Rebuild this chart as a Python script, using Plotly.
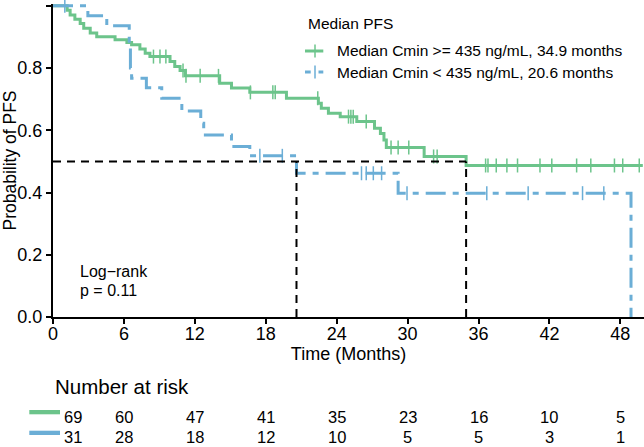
import numpy as np
import plotly.graph_objects as go

# ---------------- data ----------------
green_name = "Median Cmin >= 435 ng/mL, 34.9 months"
blue_name = "Median Cmin < 435 ng/mL, 20.6 months"

green_times = [0, 1.2, 1.45, 1.85, 2.3, 2.6, 3.15, 3.7, 5.25, 6.25, 6.65, 7.35, 7.8, 8.2,
               9.9, 10.3, 10.75, 11.2, 14.1, 15.1, 16.65, 19.75, 22.45, 22.7, 23.3, 24.3,
               25.7, 27.2, 27.7, 28.0, 28.2, 31.4, 34.95, 49.9]
green_surv = [1.0, 0.986, 0.971, 0.957, 0.943, 0.928, 0.913, 0.901, 0.891, 0.882, 0.875, 0.861, 0.848, 0.837,
              0.821, 0.805, 0.792, 0.775, 0.751, 0.736, 0.722, 0.703, 0.687, 0.671, 0.655, 0.644,
              0.628, 0.607, 0.590, 0.569, 0.545, 0.516, 0.487, 0.487]
green_censor = [8.5, 9.05, 9.55, 11.0, 11.25, 12.45, 14.0, 16.7, 18.6, 18.8, 22.4, 25.0, 25.2, 25.4,
                26.5, 28.6, 29.2, 30.1, 32.2, 32.5, 36.6, 36.8, 37.5, 38.4, 39.3, 41.2, 42.2,
                44.3, 45.5, 47.5, 48.2, 49.6]

blue_times = [0, 2.95, 4.55, 6.45, 6.55, 6.65, 7.9, 9.2, 10.9, 12.5, 12.75, 15.1, 16.65, 20.6, 29.2, 48.9]
blue_surv = [1.0, 0.968, 0.936, 0.870, 0.800, 0.767, 0.737, 0.703, 0.662, 0.623, 0.585, 0.548, 0.518,
             0.462, 0.398, 0.0]
blue_censor = [1.0, 17.5, 19.4, 26.1, 26.5, 27.1, 27.8, 29.95, 36.7, 40.2, 44.8, 46.6]

medians = [34.95, 20.6]
median_level = 0.5

risk_times = [0, 6, 12, 18, 24, 30, 36, 42, 48]
risk_green = [69, 60, 47, 41, 35, 23, 16, 10, 5]
risk_blue = [31, 28, 18, 12, 10, 5, 5, 3, 1]

y_ticks = [0.0, 0.2, 0.4, 0.6, 0.8, 1.0]

# ---------------- style ----------------
GREEN = "#6CC48B"
BLUE = "#6BAED6"
FONT = "Liberation Sans, Arial, sans-serif"
PW, PH = 644, 447
ML, MR, MT, MB = 53, 0, 4, 130


def px_x(px):
    return (px - ML) / (PW - ML - MR)


def px_y(py):
    return (PH - MB - py) / (PH - MB - MT)


def step_value(times, surv, t):
    i = np.searchsorted(np.asarray(times), t, side="right") - 1
    return np.asarray(surv)[i]


fig = go.Figure()

fig.add_trace(go.Scatter(x=green_times, y=green_surv, mode="lines", line_shape="hv",
                         line=dict(color=GREEN, width=3), name=green_name, showlegend=False))
fig.add_trace(go.Scatter(x=blue_times, y=blue_surv, mode="lines", line_shape="hv",
                         line=dict(color=BLUE, width=3, dash="20px,7px,6px,7px"),
                         name=blue_name, showlegend=False))

for times, surv, cens, col in [(green_times, green_surv, green_censor, GREEN),
                               (blue_times, blue_surv, blue_censor, BLUE)]:
    fig.add_trace(go.Scatter(
        x=cens, y=[step_value(times, surv, t) for t in cens], mode="markers",
        marker=dict(symbol="line-ns-open", size=10, color=col, line=dict(color=col, width=1.5)),
        cliponaxis=False, showlegend=False, hoverinfo="skip"))

# median reference lines
mx, my = [0, max(medians)], [median_level, median_level]
for m in medians:
    mx += [None, m, m]
    my += [None, 0, median_level]
fig.add_trace(go.Scatter(x=mx, y=my, mode="lines", line=dict(color="black", width=2, dash="8px,6px"),
                         showlegend=False, hoverinfo="skip"))

annotations = [
    dict(x=px_x(78), y=px_y(271.7), text="Log\u2212rank", font=dict(size=16)),
    dict(x=px_x(78), y=px_y(290), text="p = 0.11", font=dict(size=16)),
    dict(x=px_x(306), y=px_y(23.5), text="Median PFS", font=dict(size=15.5)),
    dict(x=px_x(335), y=px_y(51), text=green_name, font=dict(size=15.5)),
    dict(x=px_x(335), y=px_y(72), text=blue_name, font=dict(size=15.5)),
    dict(x=px_x(53), y=px_y(386.7), text="Number at risk", font=dict(size=20.5)),
]
for a in annotations:
    a.update(xref="paper", yref="paper", xanchor="left", yanchor="middle", showarrow=False)
    a["font"].update(family=FONT, color="black")

for row, py in [(risk_green, 417.2), (risk_blue, 437.2)]:
    for t, n in zip(risk_times, row):
        annotations.append(dict(x=t, xref="x", y=px_y(py), yref="paper", text=str(n), showarrow=False,
                                xanchor="center", yanchor="middle", xshift=19.5 if t == 0 else 0,
                                borderpad=0,
                                font=dict(family=FONT, size=16.5, color="black")))

shapes = [
    dict(type="line", xref="paper", yref="paper", x0=px_x(305), x1=px_x(323.3), y0=px_y(51), y1=px_y(51),
         line=dict(color=GREEN, width=3)),
    dict(type="line", xref="paper", yref="paper", x0=px_x(315), x1=px_x(315), y0=px_y(44.5), y1=px_y(57.5),
         line=dict(color=GREEN, width=1.5)),
    dict(type="line", xref="paper", yref="paper", x0=px_x(305), x1=px_x(310.7), y0=px_y(72), y1=px_y(72),
         line=dict(color=BLUE, width=3)),
    dict(type="line", xref="paper", yref="paper", x0=px_x(318.5), x1=px_x(323.3), y0=px_y(72), y1=px_y(72),
         line=dict(color=BLUE, width=3)),
    dict(type="line", xref="paper", yref="paper", x0=px_x(315), x1=px_x(315), y0=px_y(65.5), y1=px_y(78.5),
         line=dict(color=BLUE, width=1.5)),
    dict(type="rect", xref="paper", yref="paper", x0=px_x(29.3), x1=px_x(60), y0=px_y(414.3), y1=px_y(410),
         fillcolor=GREEN, line=dict(width=0)),
    dict(type="rect", xref="paper", yref="paper", x0=px_x(29.3), x1=px_x(60), y0=px_y(435), y1=px_y(430.7),
         fillcolor=BLUE, line=dict(width=0)),
]

axis_common = dict(showline=True, linewidth=2, linecolor="black", ticks="outside", ticklen=5, tickwidth=2,
                   tickcolor="black", showgrid=False, zeroline=False, automargin=False,
                   tickfont=dict(family=FONT, size=18, color="black"))

fig.update_layout(
    template="none",
    width=PW, height=PH,
    margin=dict(l=ML, r=MR, t=MT, b=MB, pad=0),
    paper_bgcolor="white", plot_bgcolor="white",
    showlegend=False,
    xaxis=dict(range=[0, 50], tickvals=risk_times, ticklabelstandoff=-6, **axis_common,
               title=dict(text="Time (Months)", font=dict(family=FONT, size=18, color="black"), standoff=4)),
    yaxis=dict(range=[0, 1.006], tickvals=y_ticks, tickformat=".1f", **axis_common,
               title=dict(text="Probability of PFS", font=dict(family=FONT, size=17.5, color="black"),
                          standoff=2)),
    annotations=annotations,
    shapes=shapes,
)

fig.write_html("out.html")
